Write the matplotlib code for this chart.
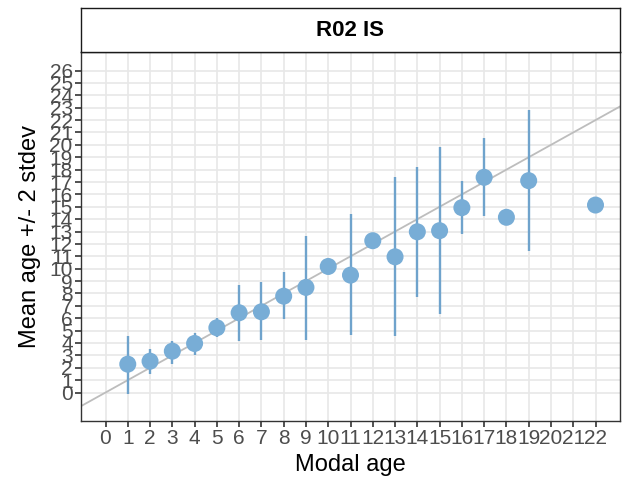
import numpy as np
import matplotlib
matplotlib.use("Agg")
import matplotlib.pyplot as plt

plt.rcParams['font.family'] = ['Liberation Sans', 'DejaVu Sans']

# 데이터
modal_age = [1, 2, 3, 4, 5, 6, 7, 8, 9, 10, 11, 12, 13, 14, 15, 16, 17, 18, 19, 22]
mean_age = [2.29, 2.53, 3.34, 3.96, 5.23, 6.44, 6.52, 7.78, 8.49, 10.18, 9.48, 12.26,
            10.96, 12.98, 13.07, 14.93, 17.38, 14.15, 17.11, 15.14]
lower = [-0.14, 1.48, 2.34, 3.0, 4.45, 4.17, 4.23, 5.9, 4.28, 9.9, 4.63, 11.75,
         4.55, 7.73, 6.33, 12.8, 14.25, np.nan, 11.45, np.nan]
upper = [4.55, 3.5, 4.15, 4.77, 5.98, 8.67, 8.89, 9.7, 12.64, 10.5, 14.4, 12.7,
         17.43, 18.24, 19.86, 17.08, 20.53, np.nan, 22.82, np.nan]
x_ticks = list(range(0, 23))
y_ticks = list(range(0, 27))
panel_title = "R02 IS"

W, H = 623, 488
fig = plt.figure(figsize=(W / 100, H / 100), dpi=100, facecolor='white')

# 패널 위치 (픽셀 기준)
left, right, top, bottom = 81, 620, 52, 421
ax = fig.add_axes([left / W, (H - bottom) / H, (right - left) / W, (bottom - top) / H])
strip = fig.add_axes([left / W, (H - top) / H, (right - left) / W, (top - 8) / H])

ax.set_xlim(-1.1, 23.1)
ax.set_ylim(-2.3, 27.5)
ax.set_xticks(x_ticks)
ax.set_yticks(y_ticks)
ax.grid(True, color='#E8E8E8', linewidth=1.2)
ax.set_axisbelow(True)

# y = x 기준선
ax.axline((0, 0), slope=1, color='#BDBDBD', linewidth=1.3, zorder=2)

# 오차 막대와 점
ax.vlines(modal_age, lower, upper, color='#6FA3CC', linewidth=1.7, zorder=3)
ax.scatter(modal_age, mean_age, s=150, color='#78ADD6', edgecolors='none', zorder=4)

for sp in ax.spines.values():
    sp.set_color('#333333')
    sp.set_linewidth(1.0)
ax.tick_params(axis='both', length=4, width=1.2, color='#333333',
               labelsize=15, labelcolor='#4D4D4D', pad=2)
ax.set_xlabel("Modal age", fontsize=17, color='black', labelpad=4)
ax.set_ylabel("Mean age +/- 2 stdev", fontsize=17, color='black', labelpad=6)

# 제목 스트립
strip.set_xticks([])
strip.set_yticks([])
strip.set_facecolor('white')
for sp in strip.spines.values():
    sp.set_color('#1A1A1A')
    sp.set_linewidth(1.0)
strip.text(0.5, 0.5, panel_title, ha='center', va='center', fontsize=16,
           fontweight='bold', transform=strip.transAxes)

fig.savefig('out.png', dpi=100, facecolor='white')
